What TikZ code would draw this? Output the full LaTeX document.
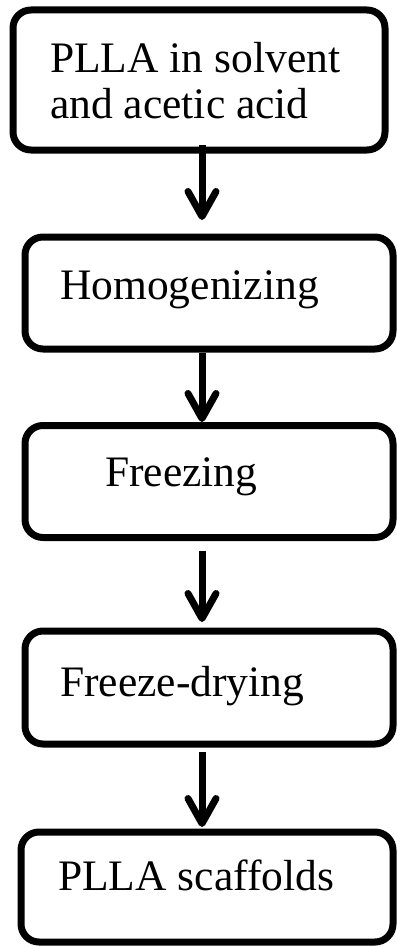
\documentclass[tikz,border=0pt]{standalone}
\usepackage{fontspec}
\setmainfont{Liberation Serif}
\usetikzlibrary{arrows.meta}
\begin{document}
\begin{tikzpicture}[x=1pt, y=-1pt,
		box/.style={draw, line width=7pt, rounded corners=18pt, minimum width=368pt, minimum height=112pt},
		lbl/.style={anchor=base west, inner sep=0pt, align=left, font=\fontsize{43.5}{45}\selectfont},
		flow/.style={line width=7pt, -{Straight Barb[length=25pt, width=28pt, round]}}]
	\useasboundingbox (0,0) rectangle (396,947);
	% process boxes
	\node[box, minimum width=372pt, minimum height=140pt] (mix) at (199,80) {};
	\node[box] (homog) at (209,293) {};
	\node[box] (freeze) at (209,481.5) {};
	\node[box, minimum height=113pt] (dry) at (209,687.5) {};
	\node[box, minimum width=372pt, minimum height=110pt] (scaf) at (207,887) {};
	% texts (two-line label sits on its last baseline)
	\node[lbl] (tmix) at (50,118) {PLLA in solvent\\and acetic acid};
	\node[lbl] (thomog) at (60,299) {Homogenizing};
	\node[lbl] (tfreeze) at (105,486) {Freezing};
	\node[lbl] (tdry) at (60,696) {Freeze-drying};
	\node[lbl] (tscaf) at (58,890) {PLLA scaffolds};
	% arrows
	\coordinate (axis) at (202,0);
	\draw[flow, shorten <=-8.5pt, shorten >=13.5pt] (mix.south -| axis) -- (homog.north -| axis);
	\draw[flow] (homog.south -| axis) -- (freeze.north -| axis);
	\draw[flow, shorten <=9.5pt, shorten >=5.5pt] (freeze.south -| axis) -- (dry.north -| axis);
	\draw[flow, shorten <=4.5pt, shorten >=1.5pt] (dry.south -| axis) -- (scaf.north -| axis);
\end{tikzpicture}
\end{document}
